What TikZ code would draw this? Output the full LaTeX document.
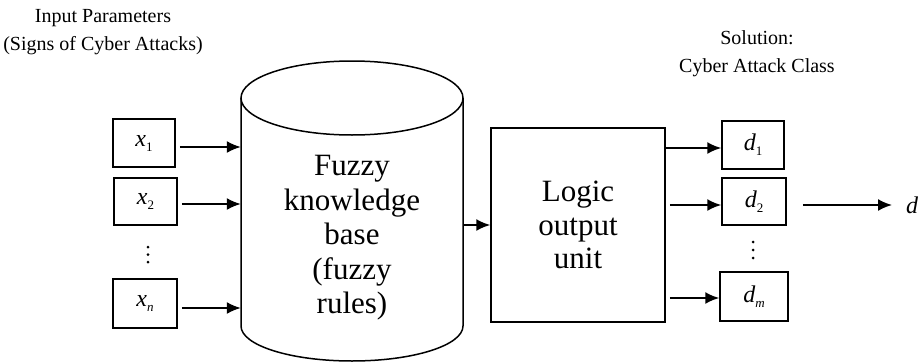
\documentclass[tikz,border=0pt]{standalone}
\usepackage{fontspec}
\setmainfont{Liberation Serif}
\usetikzlibrary{arrows.meta}
\newcommand\subs[1]{\raisebox{-5pt}{\fontsize{13}{13}\selectfont #1}}
\begin{document}
\begin{tikzpicture}[x=1pt,y=-1pt,
  box/.style={draw,line width=1.5pt,minimum width=62pt,minimum height=48pt,inner sep=0pt},
  arr/.style={line width=1.8pt,-{Latex[length=14pt,width=12pt]}},
  ttl/.style={align=center,font=\fontsize{20}{28}\selectfont},
  big/.style={align=center,font=\fontsize{31}{34.5}\selectfont},
  lbl/.style={font=\fontsize{24}{26}\selectfont\itshape},
  dotn/.style={fill,circle,inner sep=0pt,minimum size=3pt}]
\useasboundingbox (0,0) rectangle (922,362);

% titles
\node[ttl] (tin) at (103,32) {Input Parameters\\(Signs of Cyber Attacks)};
\node[ttl] (tout) at (757,54) {Solution:\\Cyber Attack Class};

% cylinder
\draw[line width=1.5pt] (241,98) -- (241,326)
  arc[start angle=180,end angle=360,x radius=111pt,y radius=35pt] -- (463,98);
\draw[line width=1.5pt] (352,98) ellipse[x radius=111pt,y radius=37pt];
\node[minimum width=222pt,minimum height=228pt,inner sep=0pt] (kb) at (352,212) {};
\node[big] (kbt) at (352,238) {Fuzzy\\knowledge\\base\\(fuzzy\\rules)};

% logic unit
\node[box,minimum width=174pt,minimum height=194pt,align=center,
  font=\fontsize{31}{33.5}\selectfont] (lo) at (578,225) {Logic\\output\\unit};

% input boxes
\node[box,lbl] (x1) at (144,143) {x\subs{\upshape 1}};
\node[box,lbl,minimum width=63pt,minimum height=47pt] (x2) at (145.5,201.5) {x\subs{\upshape 2}};
\node[box,lbl,minimum width=64pt,minimum height=49pt] (xn) at (145,303.5) {x\subs{n}};
\node[dotn] (p1) at (148,247) {};
\node[dotn] (p2) at (148,254.5) {};
\node[dotn] (p3) at (148,262) {};

% output boxes
\node[box,lbl] (d1) at (753,145) {d\subs{\upshape 1}};
\node[box,lbl,minimum width=64pt,minimum height=47pt] (d2) at (754,201.5) {d\subs{\upshape 2}};
\node[box,lbl,minimum width=68pt,minimum height=49pt] (dm) at (754,296.5) {d\subs{m}};
\node[dotn] (q1) at (753,242) {};
\node[dotn] (q2) at (753,250) {};
\node[dotn] (q3) at (753,258) {};

\node[lbl,anchor=west,inner sep=0pt] (d) at (906,205) {d};

% arrows
\draw[arr] ([xshift=4pt,yshift=-4pt]x1.east) -- ([yshift=-4pt]x1.east -| kb.west);
\draw[arr] ([xshift=4pt,yshift=-2.5pt]x2.east) -- ([yshift=-2.5pt]x2.east -| kb.west);
\draw[arr] ([xshift=4pt,yshift=-4.5pt]xn.east) -- ([yshift=-4.5pt]xn.east -| kb.west);
\draw[arr] (kb.east |- lo.west) -- (lo.west);
\draw[arr] ([yshift=-3pt]lo.east |- d1.west) -- ([yshift=-3pt]d1.west);
\draw[arr] ([xshift=4pt,yshift=-3.5pt]lo.east |- d2.west) -- ([yshift=-3.5pt]d2.west);
\draw[arr] ([xshift=4pt,yshift=-1.5pt]lo.east |- dm.west) -- ([yshift=-1.5pt]dm.west);
\draw[arr] ([xshift=16pt,yshift=-3.5pt]d2.east) -- ([xshift=-14pt]d.west);
\end{tikzpicture}
\end{document}
